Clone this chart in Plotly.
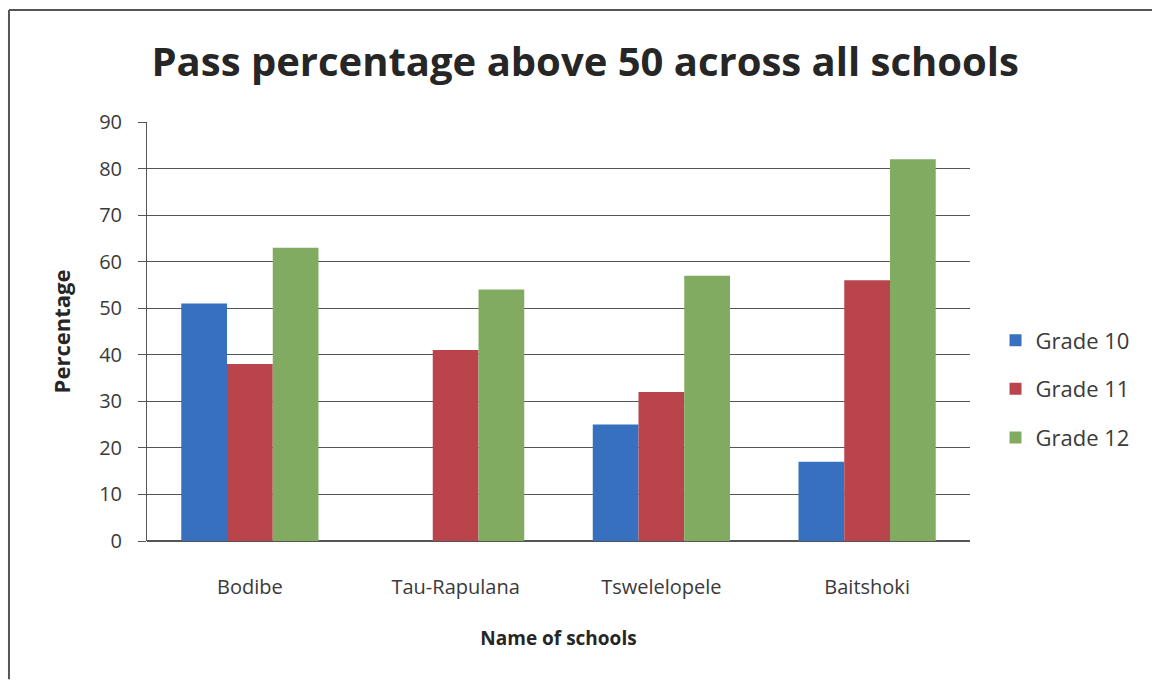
import plotly.graph_objects as go

schools = ["Bodibe", "Tau-Rapulana", "Tswelelopele", "Baitshoki"]
grade10 = [51, 0, 25, 17]
grade11 = [38, 41, 32, 56]
grade12 = [63, 54, 57, 82]
series_names = ["Grade 10", "Grade 11", "Grade 12"]
colors = ["#3670BE", "#BA444C", "#82AB62"]
y_ticks = [0, 10, 20, 30, 40, 50, 60, 70, 80, 90]

FONT = "Open Sans"

fig = go.Figure()
for name, vals, col in zip(series_names, [grade10, grade11, grade12], colors):
    fig.add_trace(go.Bar(x=schools, y=vals, name=name, legendgroup=name,
                         marker=dict(color=col, line=dict(width=0))))

fig.update_layout(
    width=1152, height=684,
    margin=dict(l=147, r=182, t=122, b=143),
    paper_bgcolor="white", plot_bgcolor="white",
    barmode="group", bargap=0.333, bargroupgap=0,
    font=dict(family=FONT, color="#333333"),
    title=dict(text="<b>Pass percentage above 50 across all schools</b>",
               x=0.508, xanchor="center", y=0.909, yanchor="middle",
               font=dict(family=FONT, size=40, color="#262626")),
    xaxis=dict(showgrid=False, showline=False, ticks="", tickfont=dict(size=20, color="#3a3a3a"),
               ticklabelstandoff=32,
               title=dict(text="<b>Name of schools</b>", font=dict(size=19, color="#262626"), standoff=32)),
    yaxis=dict(range=[0, 90], tickvals=y_ticks, showgrid=True, gridcolor="#555555", gridwidth=1,
               showline=True, linecolor="#555555", linewidth=1, ticks="outside", ticklen=8,
               tickcolor="#555555", zeroline=True, zerolinecolor="#555555",
               tickfont=dict(size=20, color="#3a3a3a"), ticklabelstandoff=12,
               title=dict(text="<b>Percentage</b>", font=dict(size=22, color="#262626"), standoff=22)),
    legend=dict(x=1.031, xanchor="left", y=0.363, yanchor="middle", font=dict(size=22, color="#3a3a3a"),
                traceorder="grouped", tracegroupgap=17, itemwidth=30, bgcolor="rgba(0,0,0,0)"),
    shapes=[
        dict(type="line", xref="paper", yref="paper", x0=-0.1677, x1=1.25, y0=1.2673, y1=1.2673,
             line=dict(color="#555555", width=2)),
        dict(type="line", xref="paper", yref="paper", x0=-0.1677, x1=-0.1677, y0=1.2673, y1=-0.33,
             line=dict(color="#555555", width=2)),
    ],
)

fig.write_html("out.html")
